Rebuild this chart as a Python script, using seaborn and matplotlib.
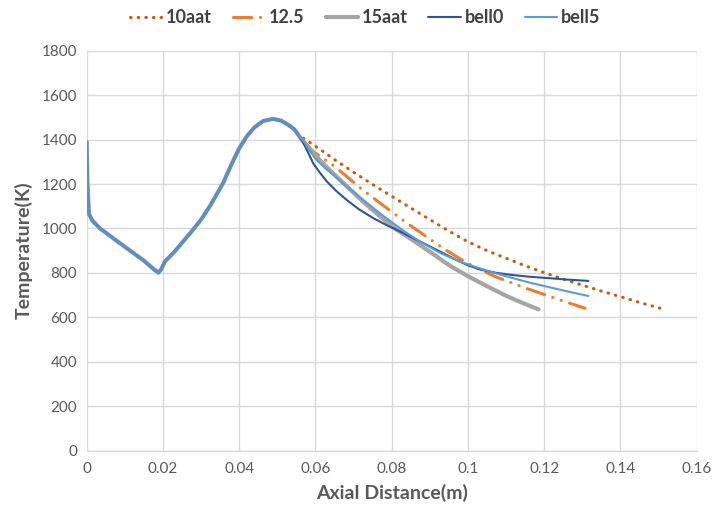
import matplotlib
matplotlib.use("Agg")
import matplotlib.pyplot as plt
import seaborn as sns
import pandas as pd

# Shared profile from the inlet to the throat region (all cases coincide)
common_x = [0.0, 0.0002, 0.0006, 0.0015, 0.0035, 0.0060, 0.0090, 0.0122, 0.0150,
            0.0175, 0.0188, 0.0195, 0.0205, 0.0230, 0.0271, 0.0300, 0.0323,
            0.0358, 0.0380, 0.0400, 0.0420, 0.0440, 0.0463, 0.0489, 0.0510,
            0.0530, 0.0545, 0.0555]
common_t = [1390, 1200, 1065, 1035, 1000, 968, 930, 890, 855,
            818, 801, 815, 851, 895, 978, 1040, 1100,
            1205, 1290, 1360, 1415, 1455, 1484, 1493, 1485,
            1465, 1445, 1421]

# Divergent-section profiles for each nozzle case
x_10aat = [0.0600, 0.0650, 0.0700, 0.0750, 0.0800, 0.0850, 0.0900, 0.0950,
           0.1000, 0.1050, 0.1100, 0.1150, 0.1200, 0.1250, 0.1300, 0.1350,
           0.1400, 0.1450, 0.1504]
t_10aat = [1370, 1310, 1253, 1198, 1145, 1092, 1040, 988,
           940, 900, 866, 832, 801, 772, 745, 718,
           693, 667, 641]

x_125 = [0.0594, 0.0643, 0.0680, 0.0717, 0.0761, 0.0800, 0.0839, 0.0887,
         0.0940, 0.0997, 0.1040, 0.1076, 0.1115, 0.1154, 0.1200, 0.1250, 0.1307]
t_125 = [1346, 1288, 1237, 1183, 1125, 1075, 1025, 968,
         905, 845, 808, 780, 755, 730, 703, 673, 641]

x_15aat = [0.0570, 0.0586, 0.0630, 0.0682, 0.0725, 0.0769, 0.0810, 0.0857,
           0.0900, 0.0950, 0.1000, 0.1050, 0.1100, 0.1140, 0.1185]
t_15aat = [1385, 1353, 1275, 1190, 1120, 1055, 998, 945,
           895, 835, 785, 740, 697, 667, 636]

x_bell0 = [0.0565, 0.0575, 0.0594, 0.0612, 0.0630, 0.0655, 0.0682, 0.0715,
           0.0752, 0.0790, 0.0822, 0.0860, 0.0892, 0.0927, 0.0970, 0.1000,
           0.1032, 0.1075, 0.1119, 0.1160, 0.1207, 0.1260, 0.1316]
t_bell0 = [1395, 1362, 1293, 1250, 1211, 1168, 1128, 1085,
           1046, 1012, 986, 953, 926, 896, 858, 834,
           815, 800, 790, 783, 777, 770, 764]

x_bell5 = [0.0570, 0.0585, 0.0603, 0.0625, 0.0647, 0.0670, 0.0699, 0.0735,
           0.0769, 0.0805, 0.0839, 0.0880, 0.0927, 0.0980, 0.1032, 0.1075,
           0.1119, 0.1160, 0.1207, 0.1260, 0.1316]
t_bell5 = [1390, 1350, 1308, 1272, 1241, 1205, 1166, 1115,
           1068, 1022, 980, 935, 890, 850, 820, 797,
           776, 757, 738, 717, 696]

labels = ["10aat", "12.5", "15aat", "bell0", "bell5"]
xs = [x_10aat, x_125, x_15aat, x_bell0, x_bell5]
ts = [t_10aat, t_125, t_15aat, t_bell0, t_bell5]
colors = ["#C55A11", "#ED7D31", "#A5A5A5", "#2F5597", "#5B9BD5"]
widths = [2.2, 2.2, 3.0, 1.5, 1.5]
styles = [(0, (0.2, 2.3)),
          (0, (6, 2.8, 0.1, 2.8, 0.1, 2.8)),
          "-", "-", "-"]

sns.set_theme(style="whitegrid")
plt.rcParams["font.family"] = ["Lato", "DejaVu Sans"]

fig = plt.figure(figsize=(7.16, 5.15), dpi=100)
ax = fig.add_axes([0.1211, 0.1249, 0.8520, 0.7767])

for lab, x, t, c, w, ls in zip(labels, xs, ts, colors, widths, styles):
    df = pd.DataFrame({"x": common_x + x, "T": common_t + t})
    sns.lineplot(data=df, x="x", y="T", ax=ax, color=c, linewidth=w,
                 sort=False, estimator=None, label=lab)
    ln = ax.lines[-1]
    ln.set_linestyle(ls)
    ln.set_solid_capstyle("round")
    ln.set_dash_capstyle("round")
    ln.set_solid_joinstyle("round")

# Shared inlet/throat segment drawn on top in blue
sns.lineplot(x=common_x, y=common_t, ax=ax, color="#5B8FC7", linewidth=2.4,
             sort=False, estimator=None, legend=False)
ax.lines[-1].set_solid_joinstyle("round")
ax.lines[-1].set_solid_capstyle("round")

ax.set_xlim(0, 0.16)
ax.set_ylim(0, 1800)
ax.set_xticks([0, 0.02, 0.04, 0.06, 0.08, 0.1, 0.12, 0.14, 0.16])
ax.set_xticklabels(["0", "0.02", "0.04", "0.06", "0.08", "0.1", "0.12", "0.14", "0.16"])
ax.set_yticks(range(0, 1801, 200))
ax.grid(True, color="#D9D9D9", linewidth=1.0)
for s in ax.spines.values():
    s.set_visible(False)
ax.spines["bottom"].set_visible(True)
ax.spines["bottom"].set_color("#D9D9D9")
ax.spines["bottom"].set_linewidth(1.0)
ax.tick_params(axis="both", colors="#595959", labelsize=11, length=0)
ax.tick_params(axis="x", pad=8)
ax.tick_params(axis="y", pad=7)

ax.set_xlabel("Axial Distance(m)", fontsize=14, fontweight="bold", color="#595959", labelpad=6)
ax.set_ylabel("Temperature(K)", fontsize=14, fontweight="bold", color="#595959", labelpad=6)

handles, labs = ax.get_legend_handles_labels()
if ax.get_legend() is not None:
    ax.get_legend().remove()
leg = fig.legend(handles[:5], labs[:5], loc="center", bbox_to_anchor=(0.51, 0.966),
                 ncol=5, frameon=False, fontsize=13, handlelength=1.8,
                 handletextpad=0.2, columnspacing=1.15)
for txt in leg.get_texts():
    txt.set_color("#404040")
    txt.set_fontweight("bold")

fig.savefig("out.png", dpi=100)
